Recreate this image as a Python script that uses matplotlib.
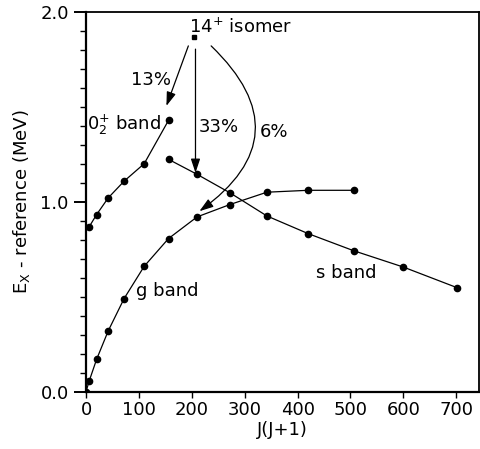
import matplotlib
matplotlib.use('Agg')
import matplotlib.pyplot as plt
from matplotlib.ticker import MultipleLocator, FixedLocator

plt.rcParams['font.family'] = ['DejaVu Sans']
plt.rcParams['mathtext.fontset'] = 'dejavusans'

# band data, x = J(J+1), y = Ex - reference (MeV)
g_x = [0, 6, 20, 42, 72, 110, 156, 210, 272, 342, 420, 506]
g_y = [0.0, 0.056, 0.17, 0.32, 0.49, 0.66, 0.806, 0.92, 0.985, 1.05, 1.06, 1.06]

s_x = [156, 210, 272, 342, 420, 506, 600, 702]
s_y = [1.223, 1.144, 1.047, 0.925, 0.832, 0.742, 0.656, 0.547]

o2_x = [6, 20, 42, 72, 110, 156]
o2_y = [0.868, 0.932, 1.02, 1.108, 1.2, 1.428]

isomer_x = 205
isomer_y = 1.865

xticks = [0, 100, 200, 300, 400, 500, 600, 700]
yticks = [0.0, 1.0, 2.0]
ytick_labels = ['0.0', '1.0', '2.0']

fig = plt.figure(figsize=(4.8, 4.49), dpi=100)
ax = fig.add_axes([86 / 480, 57.3 / 449, 393 / 480, 380 / 449])

line_kw = dict(color='black', lw=0.9, marker='o', markersize=4.5)
ax.plot(g_x, g_y, **line_kw)
ax.plot(s_x, s_y, **line_kw)
ax.plot(o2_x, o2_y, **line_kw)
ax.plot([isomer_x], [isomer_y], marker='s', markersize=3.5, color='black', ls='none')

# decay arrows from the isomer
head = '-|>,head_length=0.6,head_width=0.2'
ax.annotate('', xy=(152, 1.504), xytext=(193.5, 1.82),
            arrowprops=dict(arrowstyle=head, color='black', lw=0.9,
                            mutation_scale=14, shrinkA=0, shrinkB=0))
ax.annotate('', xy=(207, 1.152), xytext=(207, 1.803),
            arrowprops=dict(arrowstyle=head, color='black', lw=0.9,
                            mutation_scale=14, shrinkA=0, shrinkB=0))
ax.annotate('', xy=(214.4, 0.95), xytext=(236.6, 1.82),
            arrowprops=dict(arrowstyle=head, color='black', lw=0.9,
                            mutation_scale=14, shrinkA=0, shrinkB=0,
                            connectionstyle='arc3,rad=-0.6'))

fs = 13
ax.text(195.4, 1.888, r'14$^{\mathregular{+}}$ isomer', fontsize=fs, ha='left', va='baseline')
ax.text(123.3, 1.642, '13%', fontsize=fs, ha='center', va='center')
ax.text(1, 1.377, r'0$^{+}_{2}$ band', fontsize=fs, ha='left', va='baseline')
ax.text(213, 1.391, '33%', fontsize=fs, ha='left', va='center')
ax.text(328, 1.365, '6%', fontsize=fs, ha='left', va='center')
ax.text(95, 0.528, 'g band', fontsize=fs, ha='left', va='center')
ax.text(434.5, 0.626, 's band', fontsize=fs, ha='left', va='center')

ax.set_xlim(0, 743)
ax.set_ylim(0, 2.0)
ax.xaxis.set_major_locator(FixedLocator(xticks))
ax.yaxis.set_major_locator(FixedLocator(yticks))
ax.set_yticklabels(ytick_labels)
ax.yaxis.set_minor_locator(MultipleLocator(0.1))

ax.tick_params(axis='x', which='major', direction='out', length=4, width=1.0,
               labelsize=fs, pad=3, top=False)
ax.tick_params(axis='y', which='major', direction='out', length=8.5, width=1.4,
               labelsize=fs, pad=4, right=False)
ax.tick_params(axis='y', which='minor', direction='out', length=4.5, width=1.0, right=False)

for side in ['left', 'bottom']:
    ax.spines[side].set_linewidth(1.6)
for side in ['top', 'right']:
    ax.spines[side].set_linewidth(1.3)

ax.set_xlabel('J(J+1)', fontsize=fs, labelpad=1)
ax.set_ylabel(r'E$_{\mathregular{X}}$ - reference (MeV)', fontsize=fs, labelpad=6)

fig.savefig('out.png', dpi=100)
